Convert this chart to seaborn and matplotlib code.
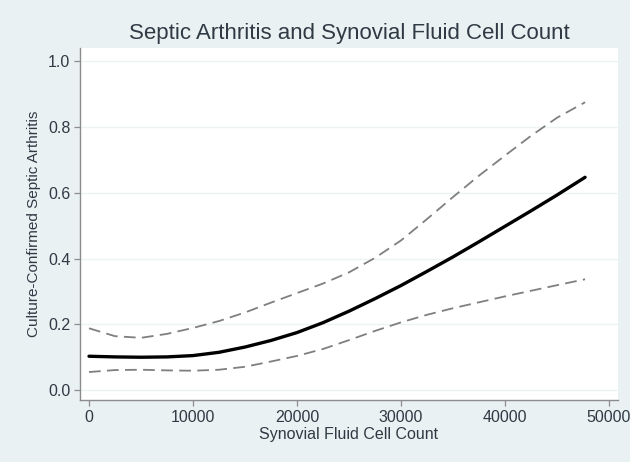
import matplotlib
matplotlib.use('Agg')
import matplotlib.pyplot as plt
import pandas as pd
import seaborn as sns

# values
cell_count = [0, 2500, 5000, 7500, 10000, 12500, 15000, 17500, 20000, 22500,
              25000, 27500, 30000, 32500, 35000, 37500, 40000, 42500, 45000, 47700]
predicted = [0.103, 0.101, 0.100, 0.101, 0.105, 0.115, 0.131, 0.151, 0.175, 0.205,
             0.240, 0.278, 0.318, 0.361, 0.405, 0.451, 0.498, 0.545, 0.593, 0.647]
upper_ci = [0.188, 0.164, 0.159, 0.171, 0.189, 0.210, 0.236, 0.266, 0.295, 0.324,
            0.358, 0.402, 0.455, 0.520, 0.587, 0.652, 0.713, 0.773, 0.828, 0.875]
lower_ci = [0.055, 0.061, 0.062, 0.060, 0.059, 0.062, 0.071, 0.087, 0.104, 0.125,
            0.152, 0.180, 0.206, 0.229, 0.249, 0.267, 0.285, 0.302, 0.319, 0.337]

x_ticks = [0, 10000, 20000, 30000, 40000, 50000]
y_ticks = [0.0, 0.2, 0.4, 0.6, 0.8, 1.0]

df = pd.DataFrame({'count': cell_count, 'fit': predicted, 'hi': upper_ci, 'lo': lower_ci})

sns.set_theme(style='white')
plt.rcParams['font.family'] = ['Liberation Sans', 'DejaVu Sans']

bg = '#eaf1f2'
axis_gray = '#8c8c8c'
text_col = '#2f3a44'

fig = plt.figure(figsize=(6.3, 4.62), dpi=100, facecolor=bg)
ax = fig.add_axes([80 / 630, 1 - 400 / 462, 538 / 630, 352 / 462])
ax.set_facecolor('white')

for y in y_ticks:
    ax.axhline(y, color='#edf2f3', lw=1.0, zorder=0)

sns.lineplot(data=df, x='count', y='hi', ax=ax, color='#7f7f7f', lw=1.3,
             dashes=False, linestyle=(0, (6.5, 3.5)))
sns.lineplot(data=df, x='count', y='lo', ax=ax, color='#7f7f7f', lw=1.3,
             dashes=False, linestyle=(0, (6.5, 3.5)))
sns.lineplot(data=df, x='count', y='fit', ax=ax, color='black', lw=2.4)

ax.set_xlim(-865, 50865)
ax.set_ylim(-0.030, 1.040)
ax.set_xticks(x_ticks)
ax.set_xticklabels([str(v) for v in x_ticks])
ax.set_yticks(y_ticks)
ax.set_yticklabels([f'{v:.1f}' for v in y_ticks])

for side in ['top', 'right']:
    ax.spines[side].set_visible(False)
for side in ['left', 'bottom']:
    ax.spines[side].set_color(axis_gray)
    ax.spines[side].set_linewidth(1.0)

ax.tick_params(axis='both', which='major', direction='out', length=4.5, width=0.9,
               color=axis_gray, labelcolor=text_col, labelsize=11.5, pad=2.5,
               bottom=True, left=True)

ax.set_xlabel('Synovial Fluid Cell Count', fontsize=11.5, color=text_col, labelpad=2)
ax.set_ylabel('Culture-Confirmed Septic Arthritis', fontsize=11, color=text_col, labelpad=5)
fig.text(349 / 630, 1 - 33 / 462, 'Septic Arthritis and Synovial Fluid Cell Count',
         ha='center', va='center', fontsize=16, color=text_col)

fig.savefig('out.png', dpi=100, facecolor=bg)
